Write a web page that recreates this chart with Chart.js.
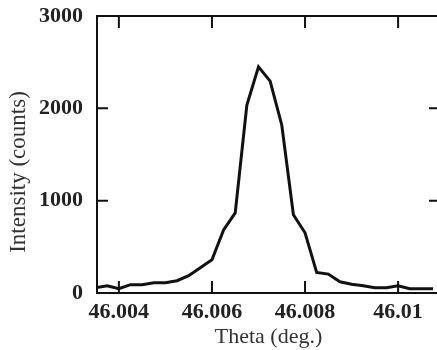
<!DOCTYPE html>
<html>
<head>
<meta charset="utf-8">
<script src="https://cdn.jsdelivr.net/npm/chart.js@4/dist/chart.umd.min.js"></script>
<style>
html,body{margin:0;padding:0;background:#fff;overflow:hidden;width:437px;height:350px;}
canvas{display:block;}
</style>
</head>
<body>
<canvas id="c" width="442" height="350"></canvas>
<script>
// Data
const theta = [46.0035,46.00375,46.004,46.00425,46.0045,46.00475,46.005,46.00525,46.0055,46.00575,
  46.006,46.00625,46.0065,46.00675,46.007,46.00725,46.0075,46.00775,46.008,46.00825,
  46.0085,46.00875,46.009,46.00925,46.0095,46.00975,46.01,46.01025,46.0105,46.01075];
const intensity = [57,79,46,90,90,111,111,133,187,273,
  360,684,868,2036,2450,2295,1820,848,652,223,
  205,122,95,79,57,57,79,46,46,46];
const xTicks = [46.004,46.006,46.008,46.01];
const yTicks = [0,1000,2000,3000];
const xTitle = 'Theta (deg.)';
const yTitle = 'Intensity (counts)';

const serif = "'Liberation Serif','Times New Roman',Times,serif";

const framePlugin = {
  id:'frame',
  afterDraw(chart){
    const {ctx, chartArea:a, scales} = chart;
    ctx.save();
    ctx.strokeStyle = '#111';
    ctx.lineWidth = 2;
    ctx.strokeRect(a.left, a.top, a.right - a.left, a.bottom - a.top);
    ctx.beginPath();
    xTicks.forEach(v => {
      const p = scales.x.getPixelForValue(v);
      ctx.moveTo(p, a.bottom); ctx.lineTo(p, a.bottom - 12);
      ctx.moveTo(p, a.top); ctx.lineTo(p, a.top + 12);
    });
    yTicks.forEach(v => {
      const p = scales.y.getPixelForValue(v);
      ctx.moveTo(a.left, p); ctx.lineTo(a.left + 11, p);
      ctx.moveTo(a.right, p); ctx.lineTo(a.right - 11, p);
    });
    ctx.stroke();
    // y axis title
    ctx.translate(19, 172);
    ctx.rotate(-Math.PI/2);
    ctx.fillStyle = '#333';
    ctx.font = "23px " + serif;
    ctx.textAlign = 'center';
    ctx.textBaseline = 'middle';
    ctx.fillText(yTitle, 0, 0);
    ctx.restore();
  }
};

new Chart(document.getElementById('c'), {
  type:'line',
  data:{
    datasets:[{
      data: theta.map((t,i)=>({x:t, y:intensity[i]})),
      borderColor:'#111',
      borderWidth:3,
      pointRadius:0,
      tension:0,
      fill:false
    }]
  },
  options:{
    responsive:false,
    animation:false,
    devicePixelRatio:1,
    layout:{padding:{top:16,right:2,left:0,bottom:0}},
    plugins:{legend:{display:false}, tooltip:{enabled:false}},
    scales:{
      x:{
        type:'linear',
        min:46.00353,
        max:46.01090,
        afterBuildTicks:s=>{ s.ticks = xTicks.map(v=>({value:v})); },
        afterFit:s=>{ s.height = 57; s.paddingLeft = 0; s.paddingRight = 0; },
        grid:{display:false, drawTicks:false},
        border:{display:false},
        ticks:{
          padding:6,
          color:'#222',
          font:{family:serif, size:22, weight:'bold'},
          callback:v=>String(Number(v.toFixed(3))),
          maxRotation:0, autoSkip:false
        },
        title:{display:true, text:xTitle, color:'#333', font:{family:serif, size:22}, padding:{top:0,bottom:0}}
      },
      y:{
        min:0, max:3000,
        afterBuildTicks:s=>{ s.ticks = yTicks.map(v=>({value:v})); },
        afterFit:s=>{ s.width = 97; s.paddingTop = 0; s.paddingBottom = 0; },
        grid:{display:false, drawTicks:false},
        border:{display:false},
        ticks:{
          padding:14,
          color:'#222',
          font:{family:serif, size:22, weight:'bold'},
          callback:v=>String(v)
        },
        title:{display:false}
      }
    }
  },
  plugins:[framePlugin]
});
</script>
</body>
</html>
